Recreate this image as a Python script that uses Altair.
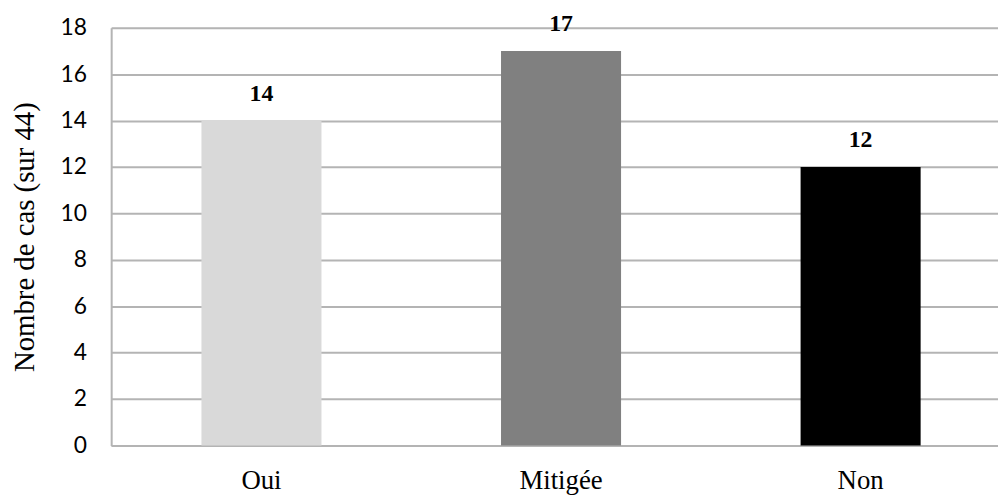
import altair as alt
import pandas as pd

categories = ["Oui", "Mitigée", "Non"]
values = [14, 17, 12]
colors = ["#d9d9d9", "#808080", "#000000"]

df = pd.DataFrame({"cat": categories, "val": values})

x = alt.X("cat:N", sort=categories, title=None,
          scale=alt.Scale(paddingInner=0.5993, paddingOuter=0.2798, align=0.5385))
y = alt.Y("val:Q", title="Nombre de cas (sur 44)",
          scale=alt.Scale(domain=[0, 18]),
          axis=alt.Axis(values=list(range(0, 19, 2))))

bars = alt.Chart(df).mark_bar().encode(
    x=x, y=y,
    color=alt.Color("cat:N", sort=categories,
                    scale=alt.Scale(domain=categories, range=colors), legend=None),
)

labels = alt.Chart(df).mark_text(font="Liberation Serif", fontSize=24, fontWeight="bold",
                                 color="#000000", dy=-27, baseline="middle").encode(
    x=alt.X("cat:N", sort=categories),
    y=alt.Y("val:Q"),
    text="val:Q",
)

chart = (bars + labels).properties(
    width=894, height=421,
    autosize=alt.AutoSizeParams(type="none"),
    padding={"left": 104, "top": 18, "right": 0, "bottom": 50},
).configure_view(stroke=None).configure(background="#ffffff").configure_axisX(
    labelAngle=0, labelFont="Liberation Serif", labelFontSize=27, labelColor="#000000",
    labelPadding=22, ticks=False, domainColor="#b4b4b4", domainWidth=2, grid=False,
).configure_axisY(
    titleFont="Liberation Serif", titleFontSize=29, titleFontWeight="normal",
    titleColor="#000000", titlePadding=21,
    labelFont="Lato", labelFontSize=23, labelColor="#000000",
    labelPadding=25, ticks=False, domainColor="#b4b4b4", domainWidth=2,
    gridColor="#b4b4b4", gridWidth=2,
)

chart.save("out.html", embed_options={"renderer": "svg", "actions": False})
